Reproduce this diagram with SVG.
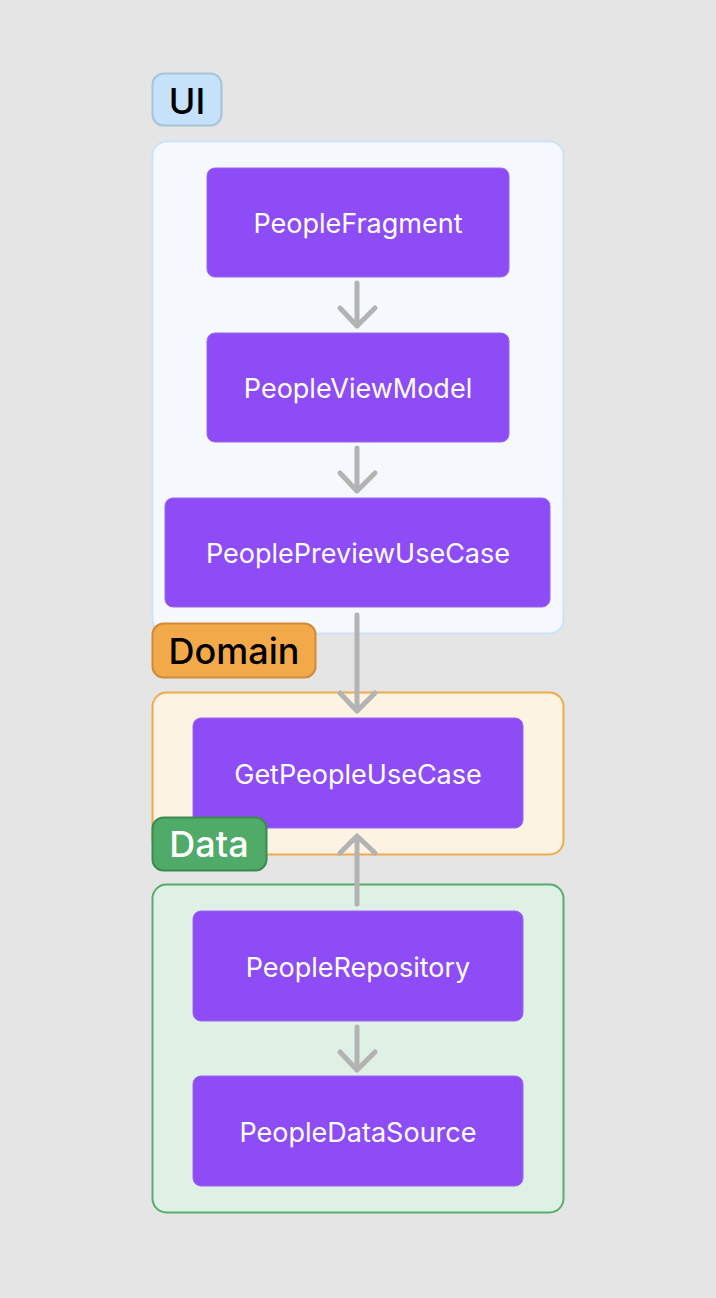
<svg xmlns="http://www.w3.org/2000/svg" width="716" height="1298" viewBox="0 0 716 1298">
<style>
.node rect{fill:#8d4cf5;stroke:#9a66f0;stroke-width:1}
.node text{fill:#ffffff;font-family:Inter,"Noto Sans",sans-serif;font-size:27px;text-anchor:middle}
.lbl text{font-family:Inter,"Noto Sans",sans-serif;font-size:36px;font-weight:500;text-anchor:middle}
.conn path{fill:none;stroke:#b3b3b3;stroke-width:5;stroke-linecap:round;stroke-linejoin:round}
</style>
<rect x="0" y="0" width="716" height="1298" fill="#e5e5e5"/>
<g id="ui-group">
<rect x="152.5" y="141.5" width="411" height="492" rx="14" fill="#f5f9fe" stroke="#cce3f7" stroke-width="2"/>
</g>
<g id="domain-group">
<rect x="152.5" y="692.5" width="411" height="162" rx="14" fill="#fcf3e3" stroke="#eeaa4f" stroke-width="2"/>
</g>
<g id="data-group">
<rect x="152.5" y="884.5" width="411" height="328" rx="14" fill="#dff0e5" stroke="#56ad6c" stroke-width="2"/>
</g>
<g id="ui-label" class="lbl">
<rect x="152.5" y="73.5" width="69" height="52" rx="11" fill="#c5e2fa" stroke="#a8c4db" stroke-width="2"/>
<text x="187" y="114" fill="#000000">UI</text>
</g>
<g id="domain-label" class="lbl">
<rect x="152.5" y="623.5" width="163" height="54" rx="11" fill="#f2a94a" stroke="#cf8a3a" stroke-width="2"/>
<text x="234" y="664" fill="#000000">Domain</text>
</g>
<g id="PeopleFragment" class="node">
<rect x="207" y="168" width="302" height="109" rx="8"/>
<text x="358" y="233">PeopleFragment</text>
</g>
<g id="PeopleViewModel" class="node">
<rect x="207" y="333" width="302" height="109" rx="8"/>
<text x="358" y="398">PeopleViewModel</text>
</g>
<g id="PeoplePreviewUseCase" class="node">
<rect x="165" y="498" width="385" height="109" rx="8"/>
<text x="358" y="563">PeoplePreviewUseCase</text>
</g>
<g id="GetPeopleUseCase" class="node">
<rect x="193" y="718" width="330" height="110" rx="8"/>
<text x="358" y="784">GetPeopleUseCase</text>
</g>
<g id="data-label" class="lbl">
<rect x="152.5" y="817.5" width="114" height="53" rx="11" fill="#4fab67" stroke="#3d8a51" stroke-width="2"/>
<text x="209" y="857" fill="#ffffff">Data</text>
</g>
<g id="PeopleRepository" class="node">
<rect x="193" y="911" width="330" height="110" rx="8"/>
<text x="358" y="977">PeopleRepository</text>
</g>
<g id="PeopleDataSource" class="node">
<rect x="193" y="1076" width="330" height="110" rx="8"/>
<text x="358" y="1142">PeopleDataSource</text>
</g>
<g id="connectors" class="conn">
<path d="M357 283 V326 M340 308 L357 326 L375 308"/>
<path d="M357 448 V491 M340 473 L357 491 L375 473"/>
<path d="M357 615 V711 M340 693 L357 711 L375 693"/>
<path d="M357 904 V836 M340 853 L357 836 L375 853"/>
<path d="M357 1027 V1070 M340 1052 L357 1070 L375 1052"/>
</g>
</svg>
